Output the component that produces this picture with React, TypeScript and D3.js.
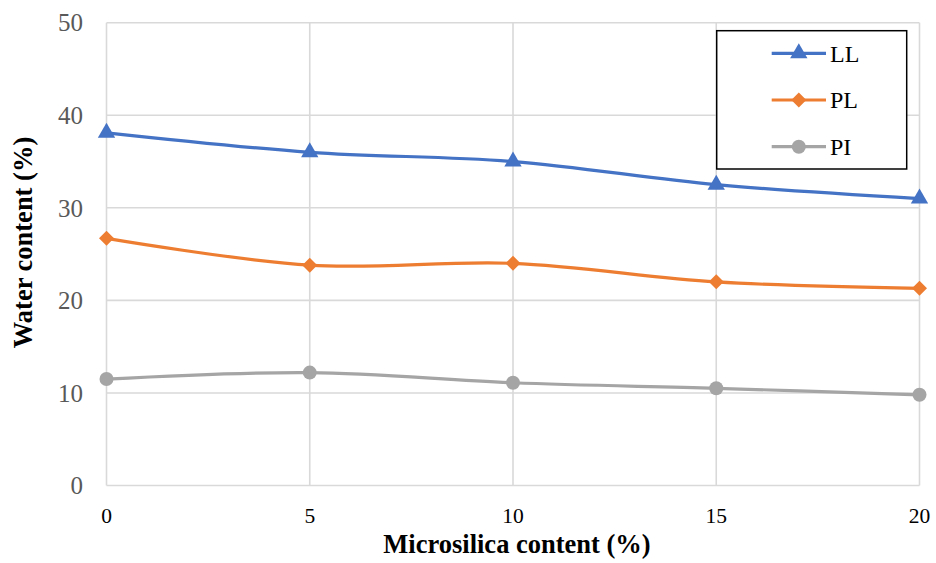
import React from "react";
import * as d3 from "d3";

const categories = [0, 5, 10, 15, 20];
const llValues = [38.1, 36.0, 35.0, 32.5, 31.0];
const plValues = [26.7, 23.8, 24.0, 22.0, 21.3];
const piValues = [11.5, 12.2, 11.1, 10.5, 9.8];
const yTicks = [0, 10, 20, 30, 40, 50];
const xTicks = [0, 5, 10, 15, 20];

const seriesNames = ["LL", "PL", "PI"];
const seriesColors = ["#4472C4", "#ED7D31", "#A5A5A5"];
const seriesValues = [llValues, plValues, piValues];
const seriesMarkers = ["triangle", "diamond", "circle"];

const W = 936;
const H = 563;
const margin = { left: 106.5, right: 16.5, top: 22.7, bottom: 77.5 };
const FONT = "'Liberation Serif', 'Times New Roman', serif";

function Marker({ type, x, y, color }: { type: string; x: number; y: number; color: string }) {
  if (type === "triangle") {
    const p = d3.symbol(d3.symbolTriangle, 130)();
    return <path d={p as string} transform={`translate(${x},${y})`} fill={color} />;
  }
  if (type === "diamond") {
    const s = 7.5;
    return (
      <path
        d={`M${x},${y - s}L${x + s},${y}L${x},${y + s}L${x - s},${y}Z`}
        fill={color}
      />
    );
  }
  return <circle cx={x} cy={y} r={7} fill={color} />;
}

export default function App() {
  const x = d3
    .scaleLinear()
    .domain([0, 20])
    .range([margin.left, W - margin.right]);
  const y = d3
    .scaleLinear()
    .domain([0, 50])
    .range([H - margin.bottom, margin.top]);

  const line = d3
    .line<number>()
    .x((_, i) => x(categories[i]))
    .y((d) => y(d))
    .curve(d3.curveCardinal.tension(0));

  const legendX = 716.7;
  const legendY = 30.7;
  const legendW = 190;
  const legendH = 138.3;

  return (
    <svg width={W} height={H} style={{ position: "absolute", left: 0, top: 0, background: "#fff" }}>
      <rect x={0} y={0} width={W} height={H} fill="#fff" />
      {/* grid */}
      {yTicks.map((t) => (
        <line
          key={"gy" + t}
          x1={x(0)}
          x2={x(20)}
          y1={y(t)}
          y2={y(t)}
          stroke="#D9D9D9"
          strokeWidth={1.6}
        />
      ))}
      {xTicks.map((t) => (
        <line
          key={"gx" + t}
          x1={x(t)}
          x2={x(t)}
          y1={y(0)}
          y2={y(50)}
          stroke="#D9D9D9"
          strokeWidth={1.6}
        />
      ))}
      {/* y tick labels */}
      {yTicks.map((t) => (
        <text
          key={"ty" + t}
          x={83}
          y={y(t)}
          dy="0.35em"
          textAnchor="end"
          fontFamily={FONT}
          fontSize={25}
          fill="#595959"
        >
          {t}
        </text>
      ))}
      {/* x tick labels */}
      {xTicks.map((t) => (
        <text
          key={"tx" + t}
          x={x(t)}
          y={522.5}
          textAnchor="middle"
          fontFamily={FONT}
          fontSize={21.5}
          fill="#000"
        >
          {t}
        </text>
      ))}
      {/* series */}
      {seriesValues.map((vals, si) => (
        <g key={"s" + si}>
          <path d={line(vals) as string} fill="none" stroke={seriesColors[si]} strokeWidth={3.2} />
          {vals.map((v, i) => (
            <Marker
              key={i}
              type={seriesMarkers[si]}
              x={x(categories[i])}
              y={y(v)}
              color={seriesColors[si]}
            />
          ))}
        </g>
      ))}
      {/* axis titles */}
      <text
        x={517}
        y={553}
        textAnchor="middle"
        fontFamily={FONT}
        fontWeight="bold"
        fontSize={26.5}
        fill="#000"
      >
        Microsilica content (%)
      </text>
      <text
        transform={`translate(32,242.5) rotate(-90)`}
        textAnchor="middle"
        fontFamily={FONT}
        fontWeight="bold"
        fontSize={26.5}
        fill="#000"
      >
        Water content (%)
      </text>
      {/* legend */}
      <rect
        x={legendX}
        y={legendY}
        width={legendW}
        height={legendH}
        fill="#fff"
        stroke="#000"
        strokeWidth={1.5}
      />
      {seriesNames.map((n, i) => {
        const ly = 53.3 + i * 46.7;
        return (
          <g key={"l" + i}>
            <line x1={771.7} x2={826} y1={ly} y2={ly} stroke={seriesColors[i]} strokeWidth={3.2} />
            <Marker type={seriesMarkers[i]} x={798.8} y={ly} color={seriesColors[i]} />
            <text
              x={830}
              y={ly}
              dy="0.35em"
              fontFamily={FONT}
              fontSize={24}
              fill="#000"
            >
              {n}
            </text>
          </g>
        );
      })}
    </svg>
  );
}
